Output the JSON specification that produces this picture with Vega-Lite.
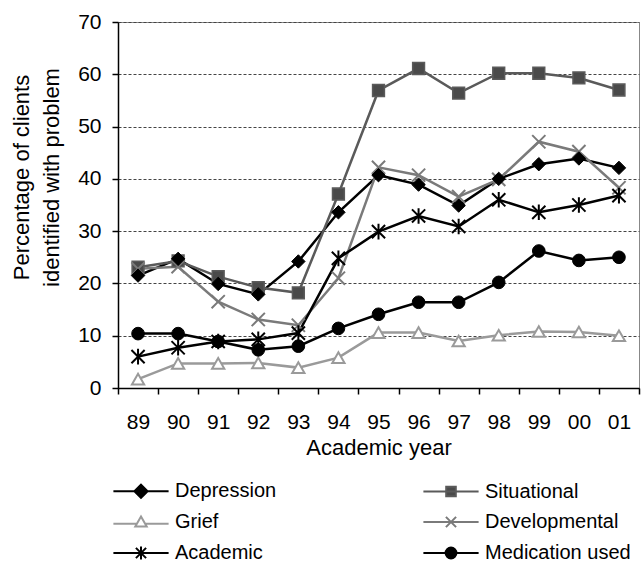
{
  "$schema": "https://vega.github.io/schema/vega-lite/v6.json",
  "width": 521,
  "height": 366,
  "autosize": {"type": "none"},
  "padding": {"left": 118, "top": 22, "right": 2, "bottom": 174},
  "background": "white",
  "config": {
    "font": "Liberation Sans",
    "view": {"stroke": "#888", "strokeWidth": 1},
    "axis": {"labelColor": "black", "titleColor": "black", "titleFontWeight": "normal", "domainColor": "black", "tickColor": "black", "domainWidth": 1.5, "tickWidth": 1.5},
    "legend": {"orient": "none", "legendX": 13, "legendY": 459, "direction": "vertical", "columns": 2, "columnPadding": 142, "rowPadding": 10, "padding": 0, "labelFontSize": 20, "labelColor": "black", "labelOffset": 24, "symbolSize": 144, "symbolStrokeWidth": 2, "labelLimit": 300}
  },
  "data": {"values": [
    {"year": "89", "series": "Depression", "value": 21.5},
    {"year": "90", "series": "Depression", "value": 24.7},
    {"year": "91", "series": "Depression", "value": 19.9},
    {"year": "92", "series": "Depression", "value": 17.9},
    {"year": "93", "series": "Depression", "value": 24.2},
    {"year": "94", "series": "Depression", "value": 33.6},
    {"year": "95", "series": "Depression", "value": 40.7},
    {"year": "96", "series": "Depression", "value": 38.9},
    {"year": "97", "series": "Depression", "value": 34.9},
    {"year": "98", "series": "Depression", "value": 40.0},
    {"year": "99", "series": "Depression", "value": 42.8},
    {"year": "00", "series": "Depression", "value": 43.9},
    {"year": "01", "series": "Depression", "value": 42.1},
    {"year": "89", "series": "Situational", "value": 23.1},
    {"year": "90", "series": "Situational", "value": 24.3},
    {"year": "91", "series": "Situational", "value": 21.3},
    {"year": "92", "series": "Situational", "value": 19.2},
    {"year": "93", "series": "Situational", "value": 18.2},
    {"year": "94", "series": "Situational", "value": 37.1},
    {"year": "95", "series": "Situational", "value": 56.9},
    {"year": "96", "series": "Situational", "value": 61.1},
    {"year": "97", "series": "Situational", "value": 56.4},
    {"year": "98", "series": "Situational", "value": 60.2},
    {"year": "99", "series": "Situational", "value": 60.2},
    {"year": "00", "series": "Situational", "value": 59.3},
    {"year": "01", "series": "Situational", "value": 57.0},
    {"year": "89", "series": "Grief", "value": 1.7},
    {"year": "90", "series": "Grief", "value": 4.7},
    {"year": "91", "series": "Grief", "value": 4.7},
    {"year": "92", "series": "Grief", "value": 4.8},
    {"year": "93", "series": "Grief", "value": 3.9},
    {"year": "94", "series": "Grief", "value": 5.8},
    {"year": "95", "series": "Grief", "value": 10.6},
    {"year": "96", "series": "Grief", "value": 10.6},
    {"year": "97", "series": "Grief", "value": 9.0},
    {"year": "98", "series": "Grief", "value": 10.1},
    {"year": "99", "series": "Grief", "value": 10.8},
    {"year": "00", "series": "Grief", "value": 10.7},
    {"year": "01", "series": "Grief", "value": 10.0},
    {"year": "89", "series": "Developmental", "value": 22.8},
    {"year": "90", "series": "Developmental", "value": 23.2},
    {"year": "91", "series": "Developmental", "value": 16.5},
    {"year": "92", "series": "Developmental", "value": 13.1},
    {"year": "93", "series": "Developmental", "value": 12.0},
    {"year": "94", "series": "Developmental", "value": 21.0},
    {"year": "95", "series": "Developmental", "value": 42.2},
    {"year": "96", "series": "Developmental", "value": 40.7},
    {"year": "97", "series": "Developmental", "value": 36.6},
    {"year": "98", "series": "Developmental", "value": 39.9},
    {"year": "99", "series": "Developmental", "value": 47.1},
    {"year": "00", "series": "Developmental", "value": 45.2},
    {"year": "01", "series": "Developmental", "value": 38.3},
    {"year": "89", "series": "Academic", "value": 6.0},
    {"year": "90", "series": "Academic", "value": 7.7},
    {"year": "91", "series": "Academic", "value": 8.9},
    {"year": "92", "series": "Academic", "value": 9.3},
    {"year": "93", "series": "Academic", "value": 10.5},
    {"year": "94", "series": "Academic", "value": 24.8},
    {"year": "95", "series": "Academic", "value": 29.9},
    {"year": "96", "series": "Academic", "value": 32.9},
    {"year": "97", "series": "Academic", "value": 30.9},
    {"year": "98", "series": "Academic", "value": 36.0},
    {"year": "99", "series": "Academic", "value": 33.6},
    {"year": "00", "series": "Academic", "value": 35.0},
    {"year": "01", "series": "Academic", "value": 36.8},
    {"year": "89", "series": "Medication used", "value": 10.4},
    {"year": "90", "series": "Medication used", "value": 10.4},
    {"year": "91", "series": "Medication used", "value": 8.9},
    {"year": "92", "series": "Medication used", "value": 7.3},
    {"year": "93", "series": "Medication used", "value": 8.0},
    {"year": "94", "series": "Medication used", "value": 11.4},
    {"year": "95", "series": "Medication used", "value": 14.1},
    {"year": "96", "series": "Medication used", "value": 16.4},
    {"year": "97", "series": "Medication used", "value": 16.4},
    {"year": "98", "series": "Medication used", "value": 20.2},
    {"year": "99", "series": "Medication used", "value": 26.2},
    {"year": "00", "series": "Medication used", "value": 24.4},
    {"year": "01", "series": "Medication used", "value": 25.0}
  ]},
  "encoding": {
    "x": {
      "field": "year", "type": "ordinal",
      "sort": ["89","90","91","92","93","94","95","96","97","98","99","00","01"],
      "scale": {"type": "band", "paddingInner": 0, "paddingOuter": 0},
      "axis": {"title": "Academic year", "labelAngle": 0, "labelFontSize": 21, "labelPadding": 17, "tickSize": 6, "tickBand": "extent", "grid": false, "titleFontSize": 22, "titleBaseline": "top", "titleY": 49}
    },
    "y": {
      "field": "value", "type": "quantitative",
      "scale": {"domain": [0, 70], "nice": false},
      "axis": {"values": [0,10,20,30,40,50,60,70], "title": ["Percentage of clients", "identified with problem"], "labelFontSize": 21, "labelPadding": 11, "tickSize": 6, "grid": true, "gridDash": [3, 2], "gridColor": "#444", "gridWidth": 1, "titleFontSize": 22, "titleLineHeight": 30, "titleBaseline": "alphabetic", "titleX": -90, "titleY": 155, "titleAngle": -90}
    },
    "stroke": {
      "field": "series", "type": "nominal",
      "scale": {"domain": ["Depression","Grief","Academic","Situational","Developmental","Medication used"], "range": ["#000000","#9a9a9a","#000000","#5a5a5a","#7a7a7a","#000000"]},
      "legend": {"title": null}
    },
    "fill": {
      "field": "series", "type": "nominal",
      "scale": {"domain": ["Depression","Grief","Academic","Situational","Developmental","Medication used"], "range": ["#000000","#ffffff","#000000","#4a4a4a","#7a7a7a","#000000"]},
      "legend": {"title": null}
    }
  },
  "layer": [
    {"mark": {"type": "line", "strokeWidth": 2.5, "fill": null}, "encoding": {"fill": {"value": null}}},
    {"transform": [{"filter": "datum.series === 'Situational'"}], "mark": {"type": "point", "filled": true, "size": 140, "strokeWidth": 1.5, "opacity": 1, "shape": "square"}},
    {"transform": [{"filter": "datum.series === 'Grief'"}], "mark": {"type": "point", "filled": true, "size": 150, "strokeWidth": 2, "opacity": 1, "shape": "triangle-up"}},
    {"transform": [{"filter": "datum.series === 'Developmental'"}], "mark": {"type": "point", "filled": true, "size": 144, "strokeWidth": 2, "opacity": 1, "shape": "M-1.1,-1.1L1.1,1.1M-1.1,1.1L1.1,-1.1"}},
    {"transform": [{"filter": "datum.series === 'Medication used'"}], "mark": {"type": "point", "filled": true, "size": 160, "strokeWidth": 1, "opacity": 1, "shape": "circle"}},
    {"transform": [{"filter": "datum.series === 'Academic'"}], "mark": {"type": "point", "filled": true, "size": 144, "strokeWidth": 2, "opacity": 1, "shape": "M-1.1,-1.1L1.1,1.1M-1.1,1.1L1.1,-1.1M0,-1.3L0,1.3"}},
    {"transform": [{"filter": "datum.series === 'Depression'"}], "mark": {"type": "point", "filled": true, "size": 180, "strokeWidth": 1, "opacity": 1, "shape": "diamond"}},
    {
      "transform": [{"filter": "false"}],
      "mark": {"type": "point", "filled": true, "size": 144, "strokeWidth": 2, "opacity": 1},
      "encoding": {
        "shape": {"field": "series", "type": "nominal", "legend": {"title": null},
          "scale": {"domain": ["Depression","Grief","Academic","Situational","Developmental","Medication used"],
            "range": [
              "M-4.6,0L4.6,0M0,-1.1L1.1,0L0,1.1L-1.1,0Z",
              "M-4.6,0.3L-0.8,0.3M0.8,0.3L4.6,0.3M0,-0.9L0.95,0.75L-0.95,0.75Z",
              "M-4.6,0L4.6,0M-0.85,-0.85L0.85,0.85M-0.85,0.85L0.85,-0.85M0,-1.1L0,1.1",
              "M-4.6,0L4.6,0M-0.8,-0.8L0.8,-0.8L0.8,0.8L-0.8,0.8Z",
              "M-4.6,0L4.6,0M-0.85,-0.85L0.85,0.85M-0.85,0.85L0.85,-0.85",
              "M-4.6,0L4.6,0M-0.9,0A0.9,0.9 0 1 0 0.9,0A0.9,0.9 0 1 0 -0.9,0Z"
            ]}}
      }
    }
  ]
}
